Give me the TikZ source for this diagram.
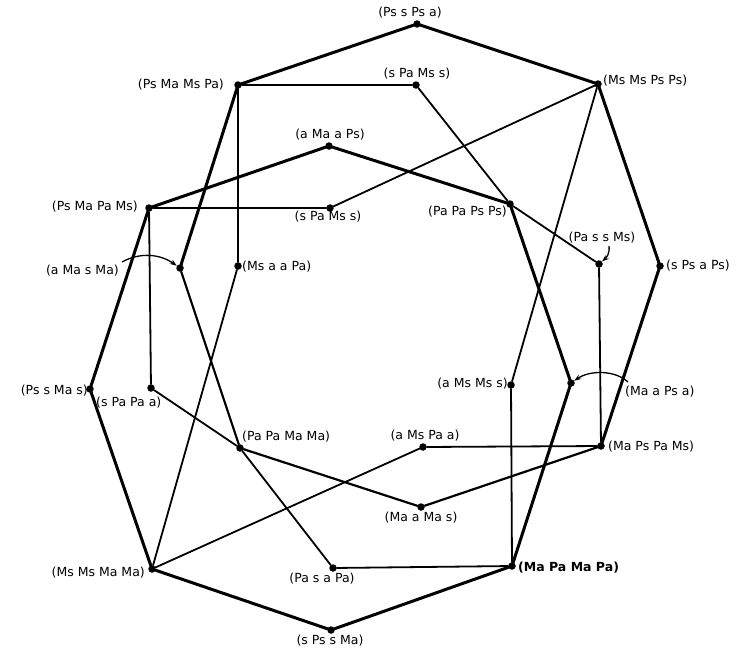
\documentclass[tikz,border=0pt]{standalone}
\usepackage{fontspec}
\setmainfont{DejaVu Sans}
\usetikzlibrary{arrows.meta}
\begin{document}
\begin{tikzpicture}[x=1pt,y=-1pt,
  dot/.style={circle,fill=black,inner sep=0pt,minimum size=7.5pt},
  lab/.style={inner sep=0pt,font=\fontsize{12.5}{13}\selectfont},
  thickedge/.style={line width=3pt,line cap=round},
  midedge/.style={line width=2.2pt,line cap=round},
  thinedge/.style={line width=1.8pt,line cap=round},
  pointer/.style={line width=1.3pt,-{Stealth[length=7pt,width=5pt]}}]
\useasboundingbox (0,0) rectangle (741,651);
% dots
\node[dot] (n1) at (417,24) {};
\node[dot] (n2) at (238,85) {};
\node[dot] (n3) at (416,85) {};
\node[dot] (n4) at (598,84) {};
\node[dot] (n5) at (329,146) {};
\node[dot] (n6) at (149,208) {};
\node[dot] (n7) at (330,208) {};
\node[dot] (n8) at (510,204) {};
\node[dot] (n9) at (599,264) {};
\node[dot] (n10) at (660,266) {};
\node[dot] (n11) at (180,268) {};
\node[dot] (n12) at (238,266) {};
\node[dot] (n13) at (90,389) {};
\node[dot] (n14) at (151,388) {};
\node[dot] (n15) at (511,385) {};
\node[dot] (n16) at (571,383) {};
\node[dot] (n17) at (240,448) {};
\node[dot] (n18) at (423,447) {};
\node[dot] (n19) at (601,446) {};
\node[dot] (n20) at (421,507) {};
\node[dot] (n21) at (152,569) {};
\node[dot] (n22) at (333,568) {};
\node[dot] (n23) at (512,566) {};
\node[dot] (n24) at (331,630) {};
% labels
\node[lab] (l1) at (410,13) {(Ps s Ps a)};
\node[lab,anchor=east] (l2) at (224,85) {(Ps Ma Ms Pa)};
\node[lab] (l3) at (417,74) {(s Pa Ms s)};
\node[lab,anchor=west] (l4) at (603,81) {(Ms Ms Ps Ps)};
\node[lab] (l5) at (330,135) {(a Ma a Ps)};
\node[lab,anchor=east] (l6) at (138,207) {(Ps Ma Pa Ms)};
\node[lab] (l7) at (328,217) {(s Pa Ms s)};
\node[lab,anchor=east] (l8) at (507,212) {(Pa Pa Ps Ps)};
\node[lab] (l9) at (602,238) {(Pa s s Ms)};
\node[lab,anchor=west] (l10) at (666,266) {(s Ps a Ps)};
\node[lab,anchor=east] (l11) at (119,271) {(a Ma s Ma)};
\node[lab,anchor=west] (l12) at (242,267) {(Ms a a Pa)};
\node[lab,anchor=east] (l13) at (88,391) {(Ps s Ma s)};
\node[lab,anchor=west] (l14) at (96,403) {(s Pa Pa a)};
\node[lab,anchor=east] (l15) at (508,384) {(a Ms Ms s)};
\node[lab,anchor=west] (l16) at (625,392) {(Ma a Ps a)};
\node[lab,anchor=west] (l17) at (242,437) {(Pa Pa Ma Ma)};
\node[lab] (l18) at (425,436) {(a Ms Pa a)};
\node[lab,anchor=west] (l19) at (608,447) {(Ma Ps Pa Ms)};
\node[lab] (l20) at (421,518) {(Ma a Ma s)};
\node[lab,anchor=east] (l21) at (145,573) {(Ms Ms Ma Ma)};
\node[lab] (l22) at (322,579) {(Pa s a Pa)};
\node[lab,anchor=west,font=\fontsize{12.5}{13}\selectfont\bfseries] (l23) at (518,568) {(Ma Pa Ma Pa)};
\node[lab] (l24) at (330,641) {(s Ps s Ma)};
% thick edges
\draw[thickedge] (n2) -- (n1) -- (n4) -- (n10) -- (n19);
\draw[thickedge] (n2) -- (n11);
\draw[thickedge] (n6) -- (n5) -- (n8) -- (n16) -- (n23) -- (n24) -- (n21) -- (n13) -- (n6);
% medium edges
\draw[midedge] (n11) -- (n17) -- (n20) -- (n19);
% thin edges
\draw[thinedge] (n2) -- (n3);
\draw[thinedge] (n2) -- (n12);
\draw[thinedge] (n3) -- (n8);
\draw[thinedge] (n4) -- (n7);
\draw[thinedge] (n4) -- (n15);
\draw[thinedge] (n6) -- (n7);
\draw[thinedge] (n6) -- (n14);
\draw[thinedge] (n8) -- (n9);
\draw[thinedge] (n9) -- (n19);
\draw[thinedge] (n12) -- (n21);
\draw[thinedge] (n14) -- (n17);
\draw[thinedge] (n17) -- (n22);
\draw[thinedge] (n15) -- (n23);
\draw[thinedge] (n18) -- (n19);
\draw[thinedge] (n18) -- (n21);
\draw[thinedge] (n22) -- (n23);
% pointer arrows
\coordinate (p11) at (122,262);
\coordinate (p16) at (628,382);
\coordinate (p9) at (609,246);
\draw[pointer] (p11) .. controls (140,252) and (160,254) .. (n11);
\draw[pointer] (p16) .. controls (615,370) and (590,370) .. (n16);
\draw[pointer] (p9) .. controls (610,254) and (606,258) .. (n9);
\end{tikzpicture}
\end{document}
